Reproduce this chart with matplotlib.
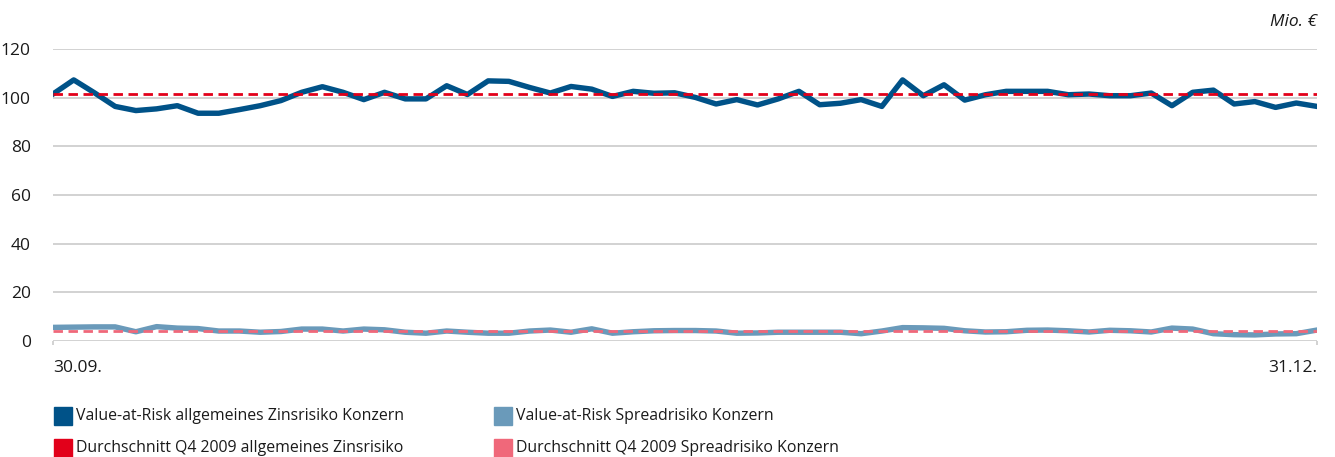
import numpy as np
import matplotlib
matplotlib.use("Agg")
import matplotlib.pyplot as plt
from matplotlib.patches import Rectangle

# Werte (Mio. €), Q4 2009, Handelstage vom 30.09. bis 31.12.
var_zins = [101.5, 107.3, 102.0, 96.4, 94.7, 95.4, 96.7, 93.6, 93.6, 95.1,
            96.7, 98.8, 102.2, 104.5, 102.2, 99.2, 102.2, 99.5, 99.5, 104.9,
            101.3, 106.9, 106.7, 104.2, 101.9, 104.6, 103.5, 100.5, 102.6, 101.8,
            102.0, 100.1, 97.4, 99.2, 97.0, 99.5, 102.6, 97.1, 97.7, 99.2,
            96.4, 107.3, 100.8, 105.3, 99.0, 101.2, 102.6, 102.6, 102.6, 101.2,
            101.5, 100.8, 100.8, 101.9, 96.7, 102.2, 103.1, 97.4, 98.4, 96.0,
            97.8, 96.4]
var_spread = [5.6, 5.7, 5.8, 5.8, 3.8, 5.9, 5.3, 5.1, 4.1, 4.1,
              3.6, 3.9, 4.9, 4.9, 4.1, 4.9, 4.6, 3.6, 3.2, 4.1,
              3.6, 3.2, 3.2, 4.1, 4.5, 3.6, 5.0, 3.2, 3.8, 4.2,
              4.3, 4.3, 4.1, 3.2, 3.3, 3.6, 3.6, 3.6, 3.6, 3.0,
              4.1, 5.5, 5.4, 5.2, 4.2, 3.7, 3.8, 4.4, 4.5, 4.2,
              3.7, 4.4, 4.2, 3.7, 5.3, 4.9, 3.0, 2.6, 2.5, 2.9,
              3.0, 4.5]
avg_zins = 101.5
avg_spread = 4.2

x_labels = ["30.09.", "31.12."]
y_ticks = [0, 20, 40, 60, 80, 100, 120]

legend_labels = [
    "Value-at-Risk allgemeines Zinsrisiko Konzern",
    "Value-at-Risk Spreadrisiko Konzern",
    "Durchschnitt Q4 2009 allgemeines Zinsrisiko",
    "Durchschnitt Q4 2009 Spreadrisiko Konzern",
]

c_zins = "#005288"
c_spread = "#6a9aba"
c_avg_zins = "#e2001a"
c_avg_spread = "#f0687a"
c_grid = "#c6c6c6"
c_text = "#1a1a1a"

plt.rcParams["font.family"] = ["Open Sans", "DejaVu Sans"]

W, H = 1335, 457
fig = plt.figure(figsize=(W / 100, H / 100), dpi=100)
ax = fig.add_axes([53 / W, 1 - 341 / H, (1317 - 53) / W, (341 - 49) / H])

x = np.arange(len(var_zins))

ax.plot(x, var_zins, color=c_zins, lw=3.9, solid_joinstyle="round", zorder=3)
ax.plot(x, var_spread, color=c_spread, lw=3.9, solid_joinstyle="round", zorder=3)
ax.plot([x[0], x[-1]], [avg_zins, avg_zins], color=c_avg_zins, lw=2.0,
        dashes=(3.4, 2.0), zorder=4)
ax.plot([x[0], x[-1]], [avg_spread, avg_spread], color=c_avg_spread, lw=2.0,
        dashes=(3.4, 2.0), zorder=4)

ax.set_xlim(x[0], x[-1])
ax.set_ylim(0, 120)
ax.set_yticks(y_ticks)
for v in y_ticks:
    ax.axhline(v, color=c_grid, lw=1.1, zorder=1)

for s in ax.spines.values():
    s.set_visible(False)

ax.tick_params(axis="y", length=0, pad=16, labelsize=12.5, labelcolor=c_text)
ax.set_xticks([x[0], x[-1]])
ax.set_xticklabels(x_labels)
ax.tick_params(axis="x", length=3, width=1.1, color=c_grid, pad=11,
               labelsize=12.5, labelcolor=c_text)
lbls = ax.get_xticklabels()
lbls[0].set_ha("left")
lbls[-1].set_ha("right")

fig.text(1317 / W, 1 - 22 / H, "Mio. €", ha="right", va="center",
         fontsize=12.5, style="italic", color=c_text)

# Legende
legend_colors = [c_zins, c_spread, c_avg_zins, c_avg_spread]
col_x = [54, 494]
row_y = [416, 448]
box = 18
for i, (lab, col) in enumerate(zip(legend_labels, legend_colors)):
    cx = col_x[i % 2]
    cy = row_y[i // 2]
    fig.patches.append(Rectangle((cx / W, 1 - (cy + box / 2) / H), box / W, box / H,
                                 transform=fig.transFigure, color=col))
    fig.text((cx + box + 4) / W, 1 - cy / H, lab, ha="left", va="center",
             fontsize=11.4, color=c_text)

fig.savefig("out.png", dpi=100)
